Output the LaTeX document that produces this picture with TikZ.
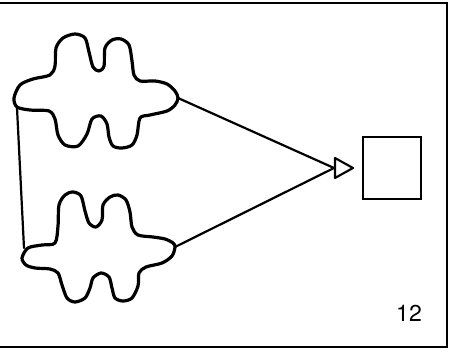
\documentclass[tikz,border=0pt]{standalone}
\usepackage{fontspec}
\setmainfont{TeX Gyre Heros}
\begin{document}
\begin{tikzpicture}[x=1pt,y=-1pt,
  cloudline/.style={line width=3.2pt, line join=round},
  conn/.style={line width=2.2pt, line cap=round},
  framel/.style={line width=1.8pt},
  boxst/.style={draw, line width=1.7pt, minimum width=58pt, minimum height=62pt, inner sep=0pt},
  label/.style={font=\fontsize{23}{23}\selectfont, inner sep=0pt}]
\useasboundingbox (0,0) rectangle (449,350);
% frame
\draw[framel] (0,3) -- (447,3) -- (447,347) -- (0,347);
% top cloud
\draw[cloudline] plot[smooth cycle, tension=0.5] coordinates {
 (14,98) (20,85) (33,79) (50,75)
 (55,66) (56,48) (63,38) (75,34) (85,38) (89,52) (93,67) (99,71)
 (104,66) (105,48) (112,40) (121,39) (129,45) (132,61) (134,75) (140,81)
 (155,81) (167,84) (175,91) (178,98) (175,105) (167,111) (150,115) (140,118)
 (137,135) (132,145) (122,148) (113,146) (109,137) (107,124) (101,116)
 (92,119) (87,134) (78,146) (65,145) (58,135) (55,119) (49,111)
 (30,110) (17,107)};
% bottom cloud
\draw[cloudline] plot[smooth cycle, tension=0.5] coordinates {
 (22,258) (28,248) (42,245) (55,243)
 (58,226) (59,205) (65,195) (73,192) (81,196) (85,211) (89,223) (96,227)
 (102,220) (103,205) (110,197) (118,195) (126,200) (130,212) (132,227) (138,235)
 (153,237) (165,239) (173,243) (175,247) (172,256) (162,263) (146,267) (139,273)
 (138,286) (132,298) (123,301) (115,298) (112,288) (109,277) (101,273)
 (93,278) (90,288) (85,298) (75,302) (67,298) (62,285) (58,273) (50,269)
 (35,268) (26,265)};
% named points
\coordinate (c1left) at (17,108);
\coordinate (c2left) at (24,248);
\coordinate (c1right) at (178,98);
\coordinate (c2right) at (175,247);
\coordinate (base) at (334,168);
\coordinate (tipU) at (335,158);
\coordinate (tipA) at (353,168);
\coordinate (tipL) at (335,178);
% connectors
\draw[conn] (c1left) -- (c2left);
\draw[conn] (c1right) -- (base);
\draw[conn] (c2right) -- (base);
\draw[line width=2.1pt, line join=round, fill=white] (tipU) -- (tipA) -- (tipL) -- cycle;
% box
\node[boxst] (box) at (392,168) {};
% label
\node[label] (num) at (409,313) {12};
\end{tikzpicture}
\end{document}
